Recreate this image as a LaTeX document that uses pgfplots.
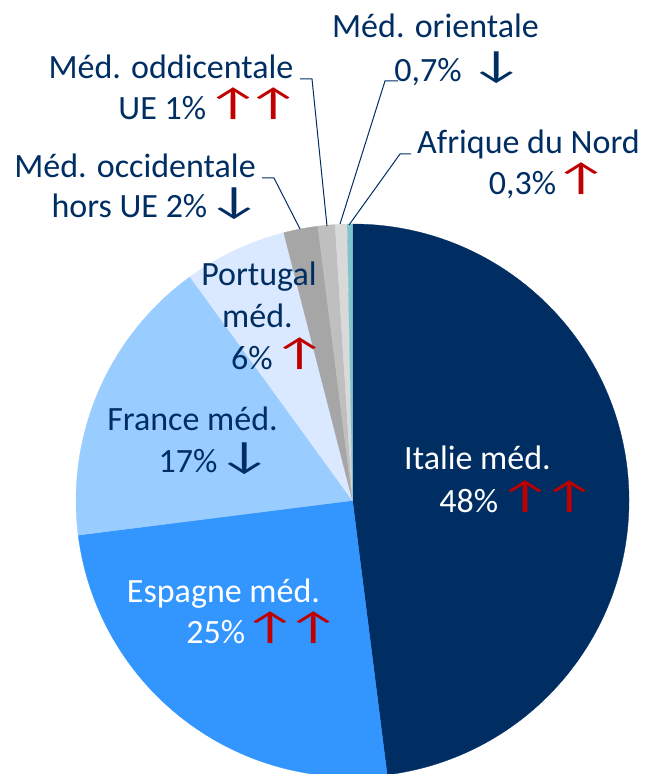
\documentclass[border=0pt]{standalone}
\usepackage{pgfplots}
\pgfplotsset{compat=1.18}
\usepackage{pgfplotstable}
\usepackage{fontspec}
\setmainfont{Carlito}
\definecolor{navy}{RGB}{0,46,99}
\definecolor{cItalie}{RGB}{0,46,99}
\definecolor{cEspagne}{RGB}{51,150,255}
\definecolor{cFrance}{RGB}{153,204,255}
\definecolor{cPortugal}{RGB}{218,233,255}
\definecolor{cOcc}{RGB}{166,166,166}
\definecolor{cOdd}{RGB}{191,191,191}
\definecolor{cOri}{RGB}{217,217,217}
\definecolor{cAfr}{RGB}{128,196,204}
\definecolor{arrred}{RGB}{192,0,0}

\pgfplotstableread{
name value col
Italie 48 cItalie
Espagne 25 cEspagne
France 17 cFrance
Portugal 6 cPortugal
OccHorsUE 2 cOcc
OccUE 1 cOdd
Orientale 0.7 cOri
AfriqueNord 0.3 cAfr
}\piedata

\newcommand\up{{\color{arrred}\kern-8.5bp\smash{\raisebox{4bp}{\scalebox{1.8}[1.12]{↑}}}\kern-8.5bp}}
\newcommand\dn{{\color{navy}\kern-8.5bp\smash{\raisebox{4bp}{\scalebox{1.8}[1.12]{↓}}}\kern-8.5bp}}
\newcommand\lbl{\fontsize{34bp}{40bp}\selectfont}

\begin{document}
\begin{tikzpicture}
\begin{axis}[width=646bp,height=774bp,scale only axis,
  xmin=0,xmax=646,ymin=0,ymax=774,y dir=reverse,
  hide axis,clip=false]
\pgfplotstablegetrowsof{\piedata}
\pgfmathtruncatemacro\nrows{\pgfplotsretval-1}
\def\cum{0}
\pgfplotsforeachungrouped \i in {0,...,\nrows}{%
  \pgfplotstablegetelem{\i}{value}\of\piedata
  \let\sliceval\pgfplotsretval
  \pgfplotstablegetelem{\i}{col}\of\piedata
  \let\slicecol\pgfplotsretval
  \pgfmathsetmacro\angA{90-3.6*\cum}%
  \pgfmathsetmacro\angB{90-3.6*(\cum+\sliceval)}%
  \edef\temp{\noexpand\fill[\slicecol, draw=\slicecol, line width=0.3bp]
    (axis cs:352.5,500.5) -- ++(\angA:276.5bp)
    arc[start angle=\angA, end angle=\angB, radius=276.5bp] -- cycle;}%
  \temp
  \pgfmathsetmacro\cum{\cum+\sliceval}%
}

% leader lines
\addplot[navy, line width=1bp, mark=none] coordinates {(300,79) (312,79) (327,226)};
\addplot[navy, line width=1bp, mark=none] coordinates {(262,178) (274,178) (300,229)};
\addplot[navy, line width=1bp, mark=none] coordinates {(398,81) (385,81) (340,224)};
\addplot[navy, line width=1bp, mark=none] coordinates {(411,154) (400,154) (349,225)};

% labels
\begin{scope}[every node/.style={anchor=base, font=\lbl, text=navy, inner sep=0pt}]
\node at (axis cs:171,79) {Méd. oddicentale};
\node at (axis cs:205.5,120) {UE 1\% \up\kern2bp\up};
\node at (axis cs:135,178) {Méd. occidentale};
\node at (axis cs:152.5,217) {hors UE 2\% \dn};
\node at (axis cs:435.5,38) {Méd. orientale};
\node at (axis cs:455,82) {0,7\%\ \ \dn};
\node at (axis cs:528.5,154) {Afrique du Nord};
\node at (axis cs:544.5,195) {0,3\%\,\up};
\node[text=white] at (axis cs:477.5,469) {Italie méd.};
\node[text=white] at (axis cs:514,512) {48\% \up\kern6bp\up};
\node[text=white] at (axis cs:223.5,602) {Espagne méd.};
\node[text=white] at (axis cs:259.5,643) {25\%\,\up\kern5bp\up};
\node at (axis cs:192.5,430) {France méd.};
\node at (axis cs:211,472) {17\% \dn};
\node at (axis cs:259,285) {Portugal};
\node at (axis cs:257.5,327) {méd.};
\node at (axis cs:275,369) {6\% \up};
\end{scope}
\end{axis}
\pgfresetboundingbox
\path[use as bounding box] (current axis.south west) rectangle (current axis.north east);
\end{tikzpicture}
\end{document}
